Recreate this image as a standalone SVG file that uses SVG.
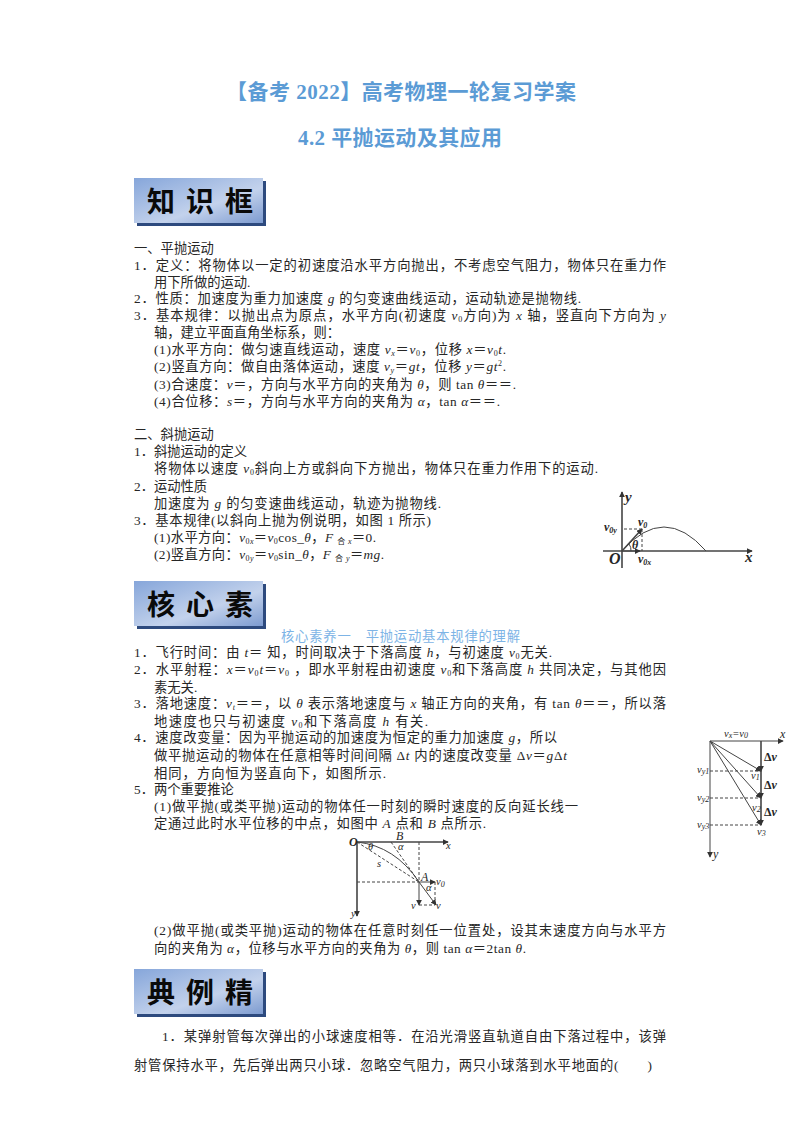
<svg xmlns="http://www.w3.org/2000/svg" width="800" height="1132" viewBox="0 0 800 1132">
<style>
text{font-family:"Liberation Serif","Noto Sans CJK SC",serif;fill:#262626;font-size:13.3px}
.i{font-style:italic}
.s{font-size:8px}
.title{font-size:21px;font-weight:700;fill:#5b9bd5}
.sub{fill:#7db4e6;font-size:13.3px}
.ban{font-family:"Noto Sans CJK SC","Liberation Sans",sans-serif;font-size:28px;font-weight:700;fill:#0a0a0a}
.l{font-size:12px;font-style:italic}
.m{font-size:10.5px;font-style:italic}
.b{font-size:15px;font-style:italic;font-weight:700}
.ax{stroke:#444;stroke-width:1.6;fill:none}
.th{stroke:#444;stroke-width:1;fill:none}
.da{stroke:#444;stroke-width:1;fill:none;stroke-dasharray:3 2}
</style>
<defs>
<linearGradient id="g" x1="0" y1="0" x2="1" y2="1"><stop offset="0" stop-color="#86a6da"/><stop offset=".6" stop-color="#c3d2ec"/><stop offset="1" stop-color="#7d9bd0"/></linearGradient>
<marker id="a" viewBox="0 0 8 8" refX="7" refY="4" markerWidth="6" markerHeight="6" markerUnits="userSpaceOnUse" orient="auto-start-reverse"><path d="M0 0L8 4L0 8z" fill="#333"/></marker>
</defs>
<rect width="800" height="1132" fill="#fff"/>
<g id="titles">
<text class="title" x="226" y="99" textLength="350">【备考 2022】高考物理一轮复习学案</text>
<text class="title" x="298" y="145" textLength="204">4.2 平抛运动及其应用</text>
</g>
<g id="banner1"><rect x="137" y="181" width="129" height="45" fill="#2d4a7e"/><rect x="134" y="178" width="129" height="45" fill="url(#g)"/><text class="ban" x="147" y="212" textLength="106">知 识 框</text></g>
<g id="banner2"><rect x="137" y="584" width="129" height="45" fill="#2d4a7e"/><rect x="134" y="581" width="129" height="45" fill="url(#g)"/><text class="ban" x="147" y="615" textLength="106">核 心 素</text></g>
<g id="banner3"><rect x="137" y="972" width="129" height="45" fill="#2d4a7e"/><rect x="134" y="969" width="129" height="45" fill="url(#g)"/><text class="ban" x="147" y="1003" textLength="106">典 例 精</text></g>
<g id="sec1">
<text x="134" y="253">一、平抛运动</text>
<text x="134" y="270" textLength="532">1．定义：将物体以一定的初速度沿水平方向抛出，不考虑空气阻力，物体只在重力作</text>
<text x="154" y="287">用下所做的运动.</text>
<text x="134" y="303" textLength="447">2．性质：加速度为重力加速度 <tspan class="i">g</tspan> 的匀变速曲线运动，运动轨迹是抛物线.</text>
<text x="134" y="320" textLength="532">3．基本规律：以抛出点为原点，水平方向(初速度 <tspan class="i">v</tspan><tspan class="s" dy="2">0</tspan><tspan dy="-2">方向)为</tspan> <tspan class="i">x</tspan> 轴，竖直向下方向为 <tspan class="i">y</tspan></text>
<text x="154" y="337">轴，建立平面直角坐标系，则：</text>
<text x="154" y="354" textLength="352">(1)水平方向：做匀速直线运动，速度 <tspan class="i">v</tspan><tspan class="s i" dy="2">x</tspan><tspan dy="-2">＝</tspan><tspan class="i">v</tspan><tspan class="s" dy="2">0</tspan><tspan dy="-2">，位移 </tspan><tspan class="i">x</tspan>＝<tspan class="i">v</tspan><tspan class="s" dy="2">0</tspan><tspan class="i" dy="-2">t</tspan>.</text>
<text x="154" y="371" textLength="352">(2)竖直方向：做自由落体运动，速度 <tspan class="i">v</tspan><tspan class="s i" dy="2">y</tspan><tspan dy="-2">＝</tspan><tspan class="i">gt</tspan>，位移 <tspan class="i">y</tspan>＝<tspan class="i">gt</tspan><tspan class="s" dy="-5">2</tspan><tspan dy="5">.</tspan></text>
<text x="154" y="389" textLength="362">(3)合速度：<tspan class="i">v</tspan>＝，方向与水平方向的夹角为 <tspan class="i">θ</tspan>，则 tan <tspan class="i">θ</tspan>＝＝.</text>
<text x="154" y="406" textLength="346">(4)合位移：<tspan class="i">s</tspan>＝，方向与水平方向的夹角为 <tspan class="i">α</tspan>，tan <tspan class="i">α</tspan>＝＝.</text>
<text x="134" y="439">二、斜抛运动</text>
<text x="134" y="456">1．斜抛运动的定义</text>
<text x="154" y="473" textLength="444">将物体以速度 <tspan class="i">v</tspan><tspan class="s" dy="2">0</tspan><tspan dy="-2">斜向上方或斜向下方抛出，物体只在重力作用下的运动.</tspan></text>
<text x="134" y="491">2．运动性质</text>
<text x="154" y="508" textLength="287">加速度为 <tspan class="i">g</tspan> 的匀变速曲线运动，轨迹为抛物线.</text>
<text x="134" y="525" textLength="297">3．基本规律(以斜向上抛为例说明，如图 1 所示)</text>
<text x="154" y="542" textLength="222">(1)水平方向：<tspan class="i">v</tspan><tspan class="s" dy="2">0<tspan class="i">x</tspan></tspan><tspan dy="-2">＝</tspan><tspan class="i">v</tspan><tspan class="s" dy="2">0</tspan><tspan dy="-2">cos_</tspan><tspan class="i">θ</tspan>，<tspan class="i">F</tspan> <tspan class="s" dy="2">合 <tspan class="i">x</tspan></tspan><tspan dy="-2">＝0.</tspan></text>
<text x="154" y="559" textLength="230">(2)竖直方向：<tspan class="i">v</tspan><tspan class="s" dy="2">0<tspan class="i">y</tspan></tspan><tspan dy="-2">＝</tspan><tspan class="i">v</tspan><tspan class="s" dy="2">0</tspan><tspan dy="-2">sin_</tspan><tspan class="i">θ</tspan>，<tspan class="i">F</tspan> <tspan class="s" dy="2">合 <tspan class="i">y</tspan></tspan><tspan dy="-2">＝</tspan><tspan class="i">mg</tspan>.</text>
</g>
<g id="sec2">
<text class="sub" x="281" y="641" textLength="239">核心素养一　平抛运动基本规律的理解</text>
<text x="134" y="657" textLength="418">1．飞行时间：由 <tspan class="i">t</tspan>＝ 知，时间取决于下落高度 <tspan class="i">h</tspan>，与初速度 <tspan class="i">v</tspan><tspan class="s" dy="2">0</tspan><tspan dy="-2">无关.</tspan></text>
<text x="134" y="674" textLength="532">2．水平射程：<tspan class="i">x</tspan>＝<tspan class="i">v</tspan><tspan class="s" dy="2">0</tspan><tspan class="i" dy="-2">t</tspan>＝<tspan class="i">v</tspan><tspan class="s" dy="2">0</tspan><tspan dy="-2"> ，即水平射程由初速度 </tspan><tspan class="i">v</tspan><tspan class="s" dy="2">0</tspan><tspan dy="-2">和下落高度 </tspan><tspan class="i">h</tspan> 共同决定，与其他因</text>
<text x="154" y="692">素无关.</text>
<text x="134" y="708" textLength="532">3．落地速度：<tspan class="i">v</tspan><tspan class="s i" dy="2">t</tspan><tspan dy="-2">＝＝，以 </tspan><tspan class="i">θ</tspan> 表示落地速度与 <tspan class="i">x</tspan> 轴正方向的夹角，有 tan <tspan class="i">θ</tspan>＝＝，所以落</text>
<text x="154" y="726" textLength="274">地速度也只与初速度 <tspan class="i">v</tspan><tspan class="s" dy="2">0</tspan><tspan dy="-2">和下落高度 </tspan><tspan class="i">h</tspan> 有关.</text>
<text x="134" y="742" textLength="423">4．速度改变量：因为平抛运动的加速度为恒定的重力加速度 <tspan class="i">g</tspan>，所以</text>
<text x="154" y="760" textLength="413">做平抛运动的物体在任意相等时间间隔 Δ<tspan class="i">t</tspan> 内的速度改变量 Δ<tspan class="i">v</tspan>＝<tspan class="i">g</tspan>Δ<tspan class="i">t</tspan></text>
<text x="154" y="778" textLength="232">相同，方向恒为竖直向下，如图所示.</text>
<text x="134" y="794">5．两个重要推论</text>
<text x="154" y="811" textLength="424">(1)做平抛(或类平抛)运动的物体任一时刻的瞬时速度的反向延长线一</text>
<text x="154" y="828" textLength="332">定通过此时水平位移的中点，如图中 <tspan class="i">A</tspan> 点和 <tspan class="i">B</tspan> 点所示.</text>
<text x="154" y="935" textLength="512">(2)做平抛(或类平抛)运动的物体在任意时刻任一位置处，设其末速度方向与水平方</text>
<text x="154" y="953" textLength="372">向的夹角为 <tspan class="i">α</tspan>，位移与水平方向的夹角为 <tspan class="i">θ</tspan>，则 tan <tspan class="i">α</tspan>＝2tan <tspan class="i">θ</tspan>.</text>
</g>
<g id="sec3">
<text x="162" y="1041" textLength="504">1．某弹射管每次弹出的小球速度相等．在沿光滑竖直轨道自由下落过程中，该弹</text>
<text x="134" y="1070" textLength="518">射管保持水平，先后弹出两只小球．忽略空气阻力，两只小球落到水平地面的(　　)</text>
</g>
<g id="fig1">
<path class="ax" d="M622 568V492" marker-end="url(#a)"/><path class="ax" d="M603 551H752" marker-end="url(#a)"/>
<path class="th" d="M622 551Q664 503 706 551"/>
<path class="ax" d="M622 551L642 529" marker-end="url(#a)"/>
<path class="da" d="M642 529H622M642 529V551"/>
<path class="th" d="M622 551H640" marker-end="url(#a)"/>
<path class="th" d="M631 551A10 10 0 0 0 629 544"/>
<text class="b" x="625" y="502">y</text><text class="b" x="745" y="562">x</text><text class="b" x="609" y="564" style="font-size:16px">O</text>
<text class="l" x="604" y="531" font-weight="700">v<tspan class="s" dy="2">0y</tspan></text>
<text class="l" x="638" y="526" font-weight="700">v<tspan class="s" dy="2">0</tspan></text>
<text class="l" x="638" y="563" font-weight="700">v<tspan class="s" dy="2">0x</tspan></text>
<text class="l" x="632" y="549" font-weight="700">θ</text>
</g>
<g id="fig2">
<path class="th" d="M710 741H783" marker-end="url(#a)"/><path class="th" d="M710 741V857" marker-end="url(#a)"/>
<path class="ax" d="M761 741V771" marker-end="url(#a)"/><path class="ax" d="M761 771V798" marker-end="url(#a)"/><path class="ax" d="M761 798V825" marker-end="url(#a)"/>
<path class="th" d="M710 741L761 771" marker-end="url(#a)"/><path class="th" d="M710 741L761 798" marker-end="url(#a)"/><path class="th" d="M710 741L761 825" marker-end="url(#a)"/>
<path class="da" d="M710 771H761M710 798H761M710 825H761"/>
<text class="m" x="724" y="737">v<tspan class="s" dy="1">x</tspan><tspan dy="-1">=v</tspan><tspan class="s" dy="1">0</tspan></text>
<text class="l" x="780" y="738">x</text><text class="l" x="713" y="858">y</text>
<text class="m" x="697" y="773">v<tspan class="s" dy="1">y1</tspan></text><text class="m" x="697" y="801">v<tspan class="s" dy="1">y2</tspan></text><text class="m" x="697" y="828">v<tspan class="s" dy="1">y3</tspan></text>
<text class="m" x="751" y="779">v<tspan class="s" dy="1">1</tspan></text><text class="m" x="752" y="811">v<tspan class="s" dy="1">2</tspan></text><text class="m" x="757" y="835">v<tspan class="s" dy="1">3</tspan></text>
<text class="l" x="764" y="761" style="font-style:normal;font-weight:700">Δ<tspan class="i">v</tspan></text><text class="l" x="764" y="789" style="font-style:normal;font-weight:700">Δ<tspan class="i">v</tspan></text><text class="l" x="764" y="816" style="font-style:normal;font-weight:700">Δ<tspan class="i">v</tspan></text>
</g>
<g id="fig3">
<path class="ax" d="M357 842H448" marker-end="url(#a)"/><path class="ax" d="M357 842V916" marker-end="url(#a)"/>
<path class="th" stroke-width="1.3" d="M357 842Q395 846 419 882"/>
<path class="da" d="M357 842L419 882M357 882H419M419 842V882M391 842L419 882M435 882V905M419 905H435"/>
<path class="th" d="M419 882L436 905" marker-end="url(#a)"/><path class="th" d="M419 882H435" marker-end="url(#a)"/><path class="th" d="M419 882V905" marker-end="url(#a)"/>
<text class="l" x="349" y="846" font-weight="700">O</text><text class="m" x="368" y="850">θ</text><text class="l" x="396" y="840">B</text><text class="m" x="398" y="850">α</text>
<text class="m" x="377" y="867">s</text><text class="l" x="421" y="881">A</text><text class="m" x="426" y="891">α</text><text class="m" x="436" y="885">v<tspan class="s" dy="2">0</tspan></text>
<text class="m" x="411" y="909">v</text><text class="m" x="436" y="909">v</text><text class="m" x="351" y="917">y</text><text class="m" x="446" y="849">x</text>
</g>
</svg>
